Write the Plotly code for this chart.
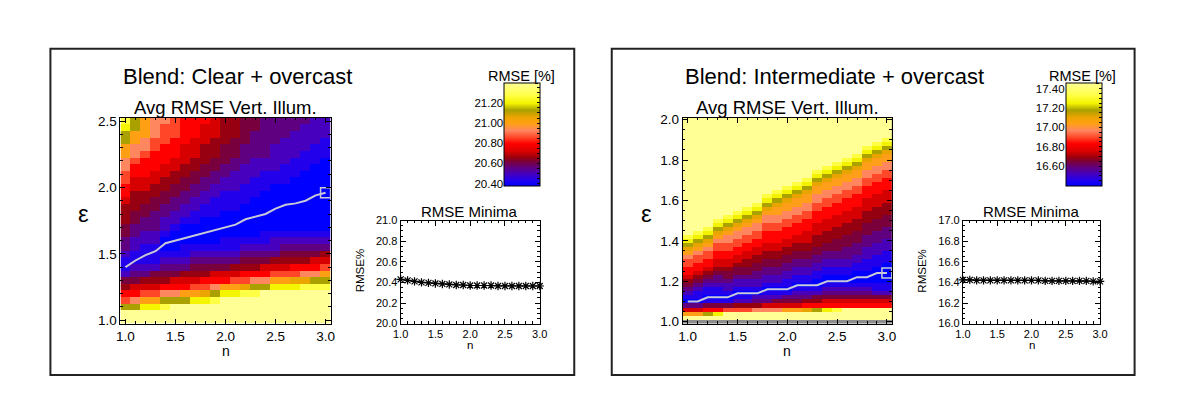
import plotly.graph_objects as go

W, H = 1186, 417
FONT = "Liberation Sans, Arial, sans-serif"

# ---------------- data ----------------
N_VALUES = [1.0, 1.1, 1.2, 1.3, 1.4, 1.5, 1.6, 1.7, 1.8, 1.9, 2.0,
            2.1, 2.2, 2.3, 2.4, 2.5, 2.6, 2.7, 2.8, 2.9, 3.0]

EPS_LEFT = [1.00, 1.05, 1.10, 1.15, 1.20, 1.25, 1.30, 1.35, 1.40, 1.45, 1.50,
            1.55, 1.60, 1.65, 1.70, 1.75, 1.80, 1.85, 1.90, 1.95, 2.00,
            2.05, 2.10, 2.15, 2.20, 2.25, 2.30, 2.35, 2.40, 2.45, 2.50]

EPS_RIGHT = [1.00, 1.02, 1.04, 1.06, 1.08, 1.10, 1.12, 1.14, 1.16, 1.18,
             1.20, 1.22, 1.24, 1.26, 1.28, 1.30, 1.32, 1.34, 1.36, 1.38,
             1.40, 1.42, 1.44, 1.46, 1.48, 1.50, 1.52, 1.54, 1.56, 1.58,
             1.60, 1.62, 1.64, 1.66, 1.68, 1.70, 1.72, 1.74, 1.76, 1.78,
             1.80, 1.82, 1.84, 1.86, 1.88, 1.90, 1.92, 1.94, 1.96, 1.98, 2.00]

# RMSE level codes (one code per cell; "x" = no value)
LEFT_LEVELS = {"0": 20.38, "1": 20.44, "2": 20.50, "3": 20.56, "4": 20.62,
               "5": 20.66, "6": 20.72, "7": 20.80, "8": 20.86, "9": 20.93,
               "a": 21.00, "b": 21.06, "c": 21.13, "d": 21.20, "e": 21.28,
               "f": 21.40}
RIGHT_LEVELS = {"0": 16.40, "1": 16.46, "2": 16.53, "3": 16.59, "4": 16.65,
                "5": 16.69, "6": 16.75, "7": 16.84, "8": 16.90, "9": 16.97,
                "a": 17.04, "b": 17.11, "c": 17.18, "d": 17.25, "e": 17.33,
                "f": 17.46, "x": None}

# columns (one per n), cells listed from eps=1.00 upward
LEFT_COLS = [
    "ffc8754211" "2334455567" "78899aaccde",
    "ffc9764321" "1223344555" "6677899aacc",
    "ffda865321" "1122334455" "66777899aaa",
    "ffda865421" "1122333445" "56677788999",
    "ffec975432" "1001223344" "55667778889",
    "fffc976432" "1000122334" "45566777888",
    "fffca76532" "1100012233" "44556667777",
    "fffda86543" "2100011223" "34455666777",
    "fffdb87543" "2100001122" "33445556667",
    "fffec97643" "2100001112" "23344555666",
    "ffffda7643" "2110000111" "22334445555",
    "ffffda8653" "2110000111" "22233444555",
    "ffffeb8754" "3210000011" "12223334444",
    "ffffec9754" "3210000001" "11222333344",
    "fffffc9764" "3211000000" "11122333333",
    "fffffda865" "3221000000" "01122223333",
    "fffffda865" "4321000000" "01112222333",
    "fffffdb875" "4321000000" "00111222233",
    "fffffeb975" "4321000000" "00011122223",
    "fffffec976" "4321000000" "00001112222",
    "fffffeca86" "5321000000" "00000111222",
]

RIGHT_COLS = [
    "xfa63" "012345677889ab" "cde" "fffff" "fffff" "fffff" "fffff" "fffff" "ffff",
    "xfa63" "0112345677889ab" "cde" "fffff" "fffff" "fffff" "fffff" "fffff" "fff",
    "xfc741" "0112345677889ab" "cde" "fffff" "fffff" "fffff" "fffff" "fffff" "ff",
    "xfd741" "011233456677889ab" "cde" "fffff" "fffff" "fffff" "fffff" "fffff",
    "xff841" "0122344566778899ab" "cde" "fffff" "fffff" "fffff" "fffff" "ffff",
    "xff8521" "0122344566778899ab" "cde" "fffff" "fffff" "fffff" "fffff" "fff",
    "xff8521" "01223445566778899ab" "cde" "fffff" "fffff" "fffff" "fffff" "ff",
    "xff9532" "012233445566778899ab" "cde" "fffff" "fffff" "fffff" "fffff" "f",
    "xff96321" "0122334455667778899ab" "cde" "fffff" "fffff" "fffff" "ffff",
    "xff96421" "0122334455667778899aab" "cde" "fffff" "fffff" "fffff" "fff",
    "xffa6431" "01122334455667778899aab" "cde" "fffff" "fffff" "fffff" "ff",
    "xffa64321" "01122334455667778899aab" "cde" "fffff" "fffff" "fffff" "f",
    "xffb75321" "011223344556667778899aab" "cde" "fffff" "fffff" "fffff",
    "xffc75421" "00112233445556667778899aab" "cde" "fffff" "fffff" "fff",
    "xffd764321" "00112233445556667778899aab" "cde" "fffff" "fffff" "ff",
    "xffe764321" "001122334445556667778899aab" "cde" "fffff" "fffff" "f",
    "xfff764321" "0011223334445556667778899aab" "cde" "fffff" "fffff",
    "xfff7643210" "0011223334445556667778899aab" "cde" "fffff" "ffff",
    "xfff7643210" "001112223334445556667778899aab" "cde" "fffff" "ff",
    "xfff76421100" "001112223334445556667778899aab" "cde" "fffff" "f",
    "xfff76421100" "0001112223334445556667778899aab" "cde" "fffff",
]

LEFT_MIN_EPS = [1.40, 1.45, 1.49, 1.52, 1.58, 1.60, 1.62, 1.64, 1.66, 1.68, 1.70,
                1.72, 1.76, 1.78, 1.80, 1.84, 1.87, 1.88, 1.90, 1.94, 1.96]
RIGHT_MIN_EPS = [1.10, 1.10, 1.12, 1.12, 1.12, 1.14, 1.14, 1.14, 1.16, 1.16, 1.16,
                 1.18, 1.18, 1.18, 1.20, 1.20, 1.20, 1.22, 1.22, 1.24, 1.24]

LEFT_MIN_RMSE = [20.43, 20.42, 20.41, 20.40, 20.395, 20.39, 20.385, 20.38, 20.375,
                 20.375, 20.37, 20.37, 20.37, 20.37, 20.365, 20.365, 20.365,
                 20.365, 20.365, 20.365, 20.365]
RIGHT_MIN_RMSE = [16.425, 16.425, 16.42, 16.42, 16.42, 16.42, 16.42, 16.42, 16.42,
                  16.42, 16.42, 16.42, 16.415, 16.415, 16.415, 16.415, 16.415,
                  16.415, 16.415, 16.41, 16.41]

LEFT_TICKS_CB = [20.40, 20.60, 20.80, 21.00, 21.20]
RIGHT_TICKS_CB = [16.60, 16.80, 17.00, 17.20, 17.40]

for c in LEFT_COLS:
    assert len(c) == len(EPS_LEFT), ("left", len(c))
for c in RIGHT_COLS:
    assert len(c) == len(EPS_RIGHT), ("right", len(c))

# ---------------- style ----------------
CMAP = [(0.000, "rgb(0,0,255)"), (0.059, "rgb(35,0,235)"), (0.118, "rgb(70,0,190)"),
        (0.176, "rgb(95,0,130)"), (0.235, "rgb(120,0,60)"), (0.275, "rgb(150,0,15)"),
        (0.333, "rgb(215,0,0)"), (0.412, "rgb(255,0,0)"), (0.471, "rgb(255,70,40)"),
        (0.539, "rgb(255,135,95)"), (0.608, "rgb(255,160,20)"), (0.667, "rgb(235,165,0)"),
        (0.735, "rgb(170,160,0)"), (0.804, "rgb(245,245,0)"), (0.882, "rgb(255,255,70)"),
        (1.000, "rgb(255,255,150)")]
LINE_C = "rgb(200,200,214)"
NODATA_C = "rgb(140,140,140)"


def px(x):
    return x / W


def py(y):
    return 1 - y / H


def grid(cols, levels, nrows):
    return [[levels[cols[j][i]] for j in range(len(cols))] for i in range(nrows)]


z_left = grid(LEFT_COLS, LEFT_LEVELS, len(EPS_LEFT))
z_right = grid(RIGHT_COLS, RIGHT_LEVELS, len(EPS_RIGHT))


def cbar(x_px, vmin):
    return dict(x=px(x_px), xanchor="left", y=py(132), yanchor="middle",
                len=106 / H, lenmode="fraction", thickness=36, thicknessmode="pixels",
                xpad=0, ypad=0, outlinewidth=1, outlinecolor="black",
                ticks="inside", ticklen=3, tickcolor="black", tickwidth=1,
                showticklabels=False, tickmode="linear", tick0=vmin, dtick=0.05)


fig = go.Figure()

fig.add_trace(go.Heatmap(x=N_VALUES, y=EPS_LEFT, z=z_left, colorscale=CMAP,
                         zmin=LEFT_LEVELS["0"], zmax=LEFT_LEVELS["f"],
                         colorbar=cbar(503, 20.40), xaxis="x", yaxis="y",
                         hoverinfo="skip"))
fig.add_trace(go.Scatter(x=N_VALUES, y=LEFT_MIN_EPS, mode="lines",
                         line=dict(color=LINE_C, width=2), xaxis="x", yaxis="y"))
fig.add_trace(go.Scatter(x=N_VALUES[-1:], y=LEFT_MIN_EPS[-1:], mode="markers",
                         marker=dict(symbol="square-open", size=10, color=LINE_C,
                                     line=dict(width=1.5, color=LINE_C)),
                         cliponaxis=False, xaxis="x", yaxis="y"))

fig.add_trace(go.Heatmap(x=N_VALUES, y=EPS_RIGHT, z=z_right, colorscale=CMAP,
                         zmin=RIGHT_LEVELS["0"], zmax=RIGHT_LEVELS["f"],
                         colorbar=cbar(1072, 16.40), xaxis="x2", yaxis="y2",
                         hoverinfo="skip", hoverongaps=False))
fig.add_trace(go.Scatter(x=N_VALUES, y=RIGHT_MIN_EPS, mode="lines",
                         line=dict(color=LINE_C, width=2), xaxis="x2", yaxis="y2"))
fig.add_trace(go.Scatter(x=N_VALUES[-1:], y=RIGHT_MIN_EPS[-1:], mode="markers",
                         marker=dict(symbol="square-open", size=10, color=LINE_C,
                                     line=dict(width=1.5, color=LINE_C)),
                         cliponaxis=False, xaxis="x2", yaxis="y2"))

for xa, ya, vals in (("x3", "y3", LEFT_MIN_RMSE), ("x4", "y4", RIGHT_MIN_RMSE)):
    fig.add_trace(go.Scatter(x=N_VALUES, y=vals, mode="lines+markers",
                             line=dict(color="black", width=1),
                             marker=dict(symbol="asterisk-open", size=7, color="black",
                                         line=dict(width=1.2, color="black")),
                             cliponaxis=False, xaxis=xa, yaxis=ya))

# placeholders so the colour-bar label axes exist
fig.add_trace(go.Scatter(x=[None], y=[None], xaxis="x5", yaxis="y5"))
fig.add_trace(go.Scatter(x=[None], y=[None], xaxis="x6", yaxis="y6"))


def axis(domain, rng, tickvals, fmt, minor_dtick, minor_t0, size, anchor):
    return dict(domain=domain, range=rng, anchor=anchor, tickmode="array",
                tickvals=tickvals, ticktext=[fmt % v for v in tickvals],
                ticks="inside", ticklen=5, tickwidth=1, tickcolor="black",
                minor=dict(ticks="inside", ticklen=2.5, tickcolor="black",
                           dtick=minor_dtick, tick0=minor_t0, showgrid=False),
                showline=True, linecolor="black", linewidth=1, mirror="ticks",
                showgrid=False, zeroline=False, fixedrange=True,
                tickfont=dict(size=size, color="black", family=FONT))


HM_Y = [py(327), py(115)]
MN_Y = [py(327), py(221)]
X_T = [1.0, 1.5, 2.0, 2.5, 3.0]

layout_axes = dict(
    xaxis=axis([px(114), px(327)], [0.95, 3.05], X_T, "%.1f", 0.1, 1.0, 13.5, "y"),
    yaxis=axis(HM_Y, [0.975, 2.525], [1.0, 1.5, 2.0, 2.5], "%.1f", 0.1, 1.0, 13.5, "x"),
    xaxis2=axis([px(684), px(896)], [0.95, 3.05], X_T, "%.1f", 0.1, 1.0, 13.5, "y2"),
    yaxis2=axis(HM_Y, [0.99, 2.01], [1.0, 1.2, 1.4, 1.6, 1.8, 2.0], "%.1f", 0.05, 1.0, 13.5, "x2"),
    xaxis3=axis([px(398), px(539)], [1.0, 3.0], X_T, "%.1f", 0.1, 1.0, 11, "y3"),
    yaxis3=axis(MN_Y, [20.0, 21.0], [20.0, 20.2, 20.4, 20.6, 20.8, 21.0], "%.1f", 0.05, 20.0, 11, "x3"),
    xaxis4=axis([px(968), px(1107)], [1.0, 3.0], X_T, "%.1f", 0.1, 1.0, 11, "y4"),
    yaxis4=axis(MN_Y, [16.0, 17.0], [16.0, 16.2, 16.4, 16.6, 16.8, 17.0], "%.1f", 0.05, 16.0, 11, "x4"),
)

for k, (x0, lo, hi, tv) in {"5": (503, LEFT_LEVELS["0"], LEFT_LEVELS["f"], LEFT_TICKS_CB),
                            "6": (1072, RIGHT_LEVELS["0"], RIGHT_LEVELS["f"], RIGHT_TICKS_CB)}.items():
    layout_axes["xaxis" + k] = dict(domain=[px(x0), px(x0 + 36)], range=[0, 1],
                                    anchor="y" + k, visible=False, fixedrange=True)
    layout_axes["yaxis" + k] = dict(domain=[py(185), py(79)], range=[lo, hi],
                                    anchor="x" + k, side="left", tickmode="array",
                                    tickvals=tv, ticktext=["%.2f" % v for v in tv],
                                    ticks="", showline=False, showgrid=False,
                                    zeroline=False, fixedrange=True,
                                    tickfont=dict(size=11.5, color="black", family=FONT))


def ann(text, x, y, size, xanchor="center", angle=0):
    return dict(text=text, x=px(x), y=py(y), xref="paper", yref="paper",
                xanchor=xanchor, yanchor="middle", showarrow=False, textangle=angle,
                font=dict(size=size, color="black", family=FONT))


annotations = [
    ann("Blend: Clear + overcast", 115, 73, 22, "left"),
    ann("Blend: Intermediate + overcast", 684, 73, 22, "left"),
    ann("Avg RMSE Vert. Illum.", 220.5, 105, 18.5),
    ann("Avg RMSE Vert. Illum.", 790, 105, 18.5),
    ann("RMSE [%]", 521, 72, 14.5),
    ann("RMSE [%]", 1089, 72, 14.5),
    ann("RMSE Minima", 468, 212, 15),
    ann("RMSE Minima", 1038, 212, 15),
    ann("ε", 77, 214, 24),
    ann("ε", 647, 214, 24),
    ann("n", 220.5, 355, 14),
    ann("n", 790, 355, 14),
    ann("n", 468, 349, 11.5),
    ann("n", 1038, 349, 11.5),
    ann("RMSE%", 357, 273, 11.5, angle=-90),
    ann("RMSE%", 927, 273, 11.5, angle=-90),
]

shapes = [
    dict(type="rect", xref="paper", yref="paper", x0=px(43), y0=py(380), x1=px(574),
         y1=py(44), line=dict(color="#222222", width=2), layer="below"),
    dict(type="rect", xref="paper", yref="paper", x0=px(612), y0=py(380), x1=px(1142),
         y1=py(44), line=dict(color="#222222", width=2), layer="below"),
    # background of the right map: shows through the cells that hold no value
    dict(type="rect", xref="x2 domain", yref="y2 domain", x0=0, y0=0, x1=1, y1=1,
         fillcolor=NODATA_C, line=dict(width=0), layer="below"),
]

fig.update_layout(width=W, height=H, margin=dict(l=0, r=0, t=0, b=0, pad=0),
                  paper_bgcolor="white", plot_bgcolor="white", showlegend=False,
                  font=dict(family=FONT, color="black"),
                  annotations=annotations, shapes=shapes, **layout_axes)

fig.write_html("out.html")
